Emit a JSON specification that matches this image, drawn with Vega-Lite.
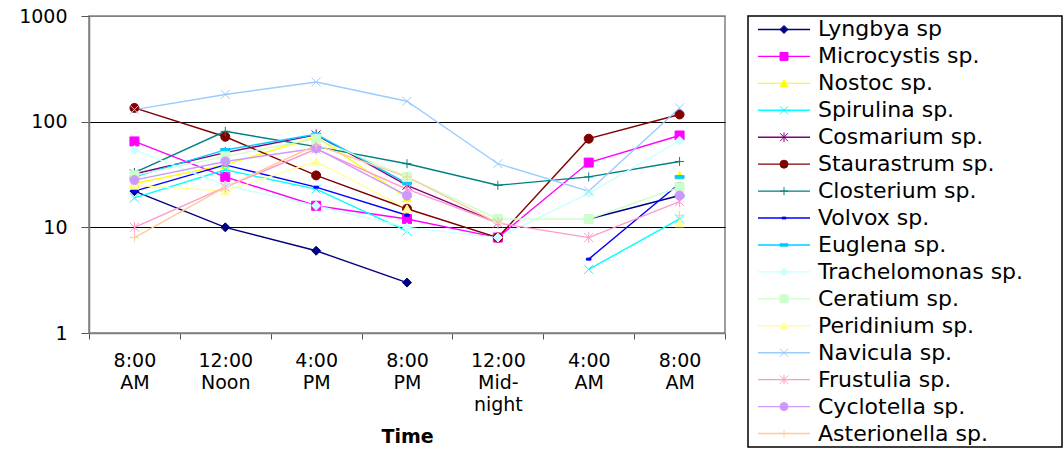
{
  "$schema": "https://vega.github.io/schema/vega-lite/v6.json",
  "padding": {"left": 17, "top": 6, "right": 2, "bottom": 0},
  "background": "white",
  "config": {"view": {"stroke": null}, "font": "DejaVu Sans", "concat": {"spacing": 20}},
  "data": {"values": [
    {"species":"Lyngbya sp","time":"1 8:00 AM","count":22},{"species":"Lyngbya sp","time":"2 12:00 Noon","count":10},{"species":"Lyngbya sp","time":"3 4:00 PM","count":6},{"species":"Lyngbya sp","time":"4 8:00 PM","count":3},{"species":"Lyngbya sp","time":"5 12:00 Mid-night","count":null},{"species":"Lyngbya sp","time":"6 4:00 AM","count":12},{"species":"Lyngbya sp","time":"7 8:00 AM","count":20},
    {"species":"Microcystis sp.","time":"1 8:00 AM","count":65},{"species":"Microcystis sp.","time":"2 12:00 Noon","count":30},{"species":"Microcystis sp.","time":"3 4:00 PM","count":16},{"species":"Microcystis sp.","time":"4 8:00 PM","count":12},{"species":"Microcystis sp.","time":"5 12:00 Mid-night","count":8},{"species":"Microcystis sp.","time":"6 4:00 AM","count":41},{"species":"Microcystis sp.","time":"7 8:00 AM","count":74},
    {"species":"Nostoc sp.","time":"1 8:00 AM","count":26},{"species":"Nostoc sp.","time":"2 12:00 Noon","count":39},{"species":"Nostoc sp.","time":"3 4:00 PM","count":72},{"species":"Nostoc sp.","time":"4 8:00 PM","count":19},{"species":"Nostoc sp.","time":"5 12:00 Mid-night","count":null},{"species":"Nostoc sp.","time":"6 4:00 AM","count":null},{"species":"Nostoc sp.","time":"7 8:00 AM","count":31},
    {"species":"Spirulina sp.","time":"1 8:00 AM","count":19},{"species":"Spirulina sp.","time":"2 12:00 Noon","count":35},{"species":"Spirulina sp.","time":"3 4:00 PM","count":23},{"species":"Spirulina sp.","time":"4 8:00 PM","count":9.2},{"species":"Spirulina sp.","time":"5 12:00 Mid-night","count":null},{"species":"Spirulina sp.","time":"6 4:00 AM","count":4},{"species":"Spirulina sp.","time":"7 8:00 AM","count":12},
    {"species":"Cosmarium sp.","time":"1 8:00 AM","count":32},{"species":"Cosmarium sp.","time":"2 12:00 Noon","count":51},{"species":"Cosmarium sp.","time":"3 4:00 PM","count":75},{"species":"Cosmarium sp.","time":"4 8:00 PM","count":25},{"species":"Cosmarium sp.","time":"5 12:00 Mid-night","count":11},{"species":"Cosmarium sp.","time":"6 4:00 AM","count":null},{"species":"Cosmarium sp.","time":"7 8:00 AM","count":21},
    {"species":"Staurastrum sp.","time":"1 8:00 AM","count":135},{"species":"Staurastrum sp.","time":"2 12:00 Noon","count":72},{"species":"Staurastrum sp.","time":"3 4:00 PM","count":31},{"species":"Staurastrum sp.","time":"4 8:00 PM","count":15},{"species":"Staurastrum sp.","time":"5 12:00 Mid-night","count":8},{"species":"Staurastrum sp.","time":"6 4:00 AM","count":69},{"species":"Staurastrum sp.","time":"7 8:00 AM","count":117},
    {"species":"Closterium sp.","time":"1 8:00 AM","count":33},{"species":"Closterium sp.","time":"2 12:00 Noon","count":81},{"species":"Closterium sp.","time":"3 4:00 PM","count":58},{"species":"Closterium sp.","time":"4 8:00 PM","count":40},{"species":"Closterium sp.","time":"5 12:00 Mid-night","count":25},{"species":"Closterium sp.","time":"6 4:00 AM","count":30},{"species":"Closterium sp.","time":"7 8:00 AM","count":42},
    {"species":"Volvox sp.","time":"1 8:00 AM","count":22},{"species":"Volvox sp.","time":"2 12:00 Noon","count":39},{"species":"Volvox sp.","time":"3 4:00 PM","count":24},{"species":"Volvox sp.","time":"4 8:00 PM","count":13},{"species":"Volvox sp.","time":"5 12:00 Mid-night","count":null},{"species":"Volvox sp.","time":"6 4:00 AM","count":5},{"species":"Volvox sp.","time":"7 8:00 AM","count":26},
    {"species":"Euglena sp.","time":"1 8:00 AM","count":30},{"species":"Euglena sp.","time":"2 12:00 Noon","count":54},{"species":"Euglena sp.","time":"3 4:00 PM","count":76},{"species":"Euglena sp.","time":"4 8:00 PM","count":26},{"species":"Euglena sp.","time":"5 12:00 Mid-night","count":null},{"species":"Euglena sp.","time":"6 4:00 AM","count":null},{"species":"Euglena sp.","time":"7 8:00 AM","count":30},
    {"species":"Trachelomonas sp.","time":"1 8:00 AM","count":54},{"species":"Trachelomonas sp.","time":"2 12:00 Noon","count":25},{"species":"Trachelomonas sp.","time":"3 4:00 PM","count":16},{"species":"Trachelomonas sp.","time":"4 8:00 PM","count":10},{"species":"Trachelomonas sp.","time":"5 12:00 Mid-night","count":8},{"species":"Trachelomonas sp.","time":"6 4:00 AM","count":21},{"species":"Trachelomonas sp.","time":"7 8:00 AM","count":66},
    {"species":"Ceratium sp.","time":"1 8:00 AM","count":31},{"species":"Ceratium sp.","time":"2 12:00 Noon","count":47},{"species":"Ceratium sp.","time":"3 4:00 PM","count":69},{"species":"Ceratium sp.","time":"4 8:00 PM","count":30},{"species":"Ceratium sp.","time":"5 12:00 Mid-night","count":12},{"species":"Ceratium sp.","time":"6 4:00 AM","count":12},{"species":"Ceratium sp.","time":"7 8:00 AM","count":24},
    {"species":"Peridinium sp.","time":"1 8:00 AM","count":25},{"species":"Peridinium sp.","time":"2 12:00 Noon","count":22},{"species":"Peridinium sp.","time":"3 4:00 PM","count":42},{"species":"Peridinium sp.","time":"4 8:00 PM","count":15},{"species":"Peridinium sp.","time":"5 12:00 Mid-night","count":null},{"species":"Peridinium sp.","time":"6 4:00 AM","count":null},{"species":"Peridinium sp.","time":"7 8:00 AM","count":11},
    {"species":"Navicula sp.","time":"1 8:00 AM","count":130},{"species":"Navicula sp.","time":"2 12:00 Noon","count":181},{"species":"Navicula sp.","time":"3 4:00 PM","count":237},{"species":"Navicula sp.","time":"4 8:00 PM","count":156},{"species":"Navicula sp.","time":"5 12:00 Mid-night","count":40},{"species":"Navicula sp.","time":"6 4:00 AM","count":22},{"species":"Navicula sp.","time":"7 8:00 AM","count":135},
    {"species":"Frustulia sp.","time":"1 8:00 AM","count":10},{"species":"Frustulia sp.","time":"2 12:00 Noon","count":24},{"species":"Frustulia sp.","time":"3 4:00 PM","count":55},{"species":"Frustulia sp.","time":"4 8:00 PM","count":23},{"species":"Frustulia sp.","time":"5 12:00 Mid-night","count":11},{"species":"Frustulia sp.","time":"6 4:00 AM","count":8},{"species":"Frustulia sp.","time":"7 8:00 AM","count":17.5},
    {"species":"Cyclotella sp.","time":"1 8:00 AM","count":28},{"species":"Cyclotella sp.","time":"2 12:00 Noon","count":42},{"species":"Cyclotella sp.","time":"3 4:00 PM","count":56},{"species":"Cyclotella sp.","time":"4 8:00 PM","count":20},{"species":"Cyclotella sp.","time":"5 12:00 Mid-night","count":null},{"species":"Cyclotella sp.","time":"6 4:00 AM","count":null},{"species":"Cyclotella sp.","time":"7 8:00 AM","count":20},
    {"species":"Asterionella sp.","time":"1 8:00 AM","count":8},{"species":"Asterionella sp.","time":"2 12:00 Noon","count":24},{"species":"Asterionella sp.","time":"3 4:00 PM","count":60},{"species":"Asterionella sp.","time":"4 8:00 PM","count":30},{"species":"Asterionella sp.","time":"5 12:00 Mid-night","count":11},{"species":"Asterionella sp.","time":"6 4:00 AM","count":null},{"species":"Asterionella sp.","time":"7 8:00 AM","count":13}
  ]},
  "hconcat": [
    {
      "width": 636,
      "height": 317,
      "view": {"stroke": "#808080", "strokeWidth": 1.5},
      "encoding": {
        "x": {
          "field": "time", "type": "ordinal",
          "scale": {"domain": ["1 8:00 AM","2 12:00 Noon","3 4:00 PM","4 8:00 PM","5 12:00 Mid-night","6 4:00 AM","7 8:00 AM"], "paddingInner": 0, "paddingOuter": 0},
          "axis": {
            "title": "Time", "titleFontSize": 19, "titleFontWeight": "bold", "titleColor": "black", "titlePadding": 13,
            "labelExpr": "split(replace(slice(datum.label, 2), 'Mid-night', 'Mid- night'), ' ')",
            "labelAngle": 0, "labelFontSize": 19, "labelColor": "black", "labelLineHeight": 22, "labelPadding": 12,
            "tickBand": "extent", "tickSize": 6, "tickColor": "#555", "domainColor": "#808080", "domainWidth": 1.5, "grid": false
          }
        },
        "y": {
          "field": "count", "type": "quantitative",
          "scale": {"type": "log", "domain": [1, 1000], "nice": false},
          "axis": {
            "title": null, "values": [1, 10, 100, 1000], "format": "d",
            "labelFontSize": 19, "labelColor": "black", "labelPadding": 14, "tickSize": 8, "tickColor": "#555",
            "domainColor": "#808080", "domainWidth": 1.5,
            "grid": true,
            "gridColor": {"condition": {"test": "datum.value === 1000 || datum.value === 1", "value": "#808080"}, "value": "#000000"},
            "gridWidth": 1.2
          }
        }
      },
      "layer": [
        {
          "mark": {"type": "line", "strokeWidth": 1.4, "invalid": "break-paths-show-domains"},
          "encoding": {
            "color": {
              "field": "species", "type": "nominal", "legend": null,
              "scale": {
                "domain": ["Lyngbya sp","Microcystis sp.","Nostoc sp.","Spirulina sp.","Cosmarium sp.","Staurastrum sp.","Closterium sp.","Volvox sp.","Euglena sp.","Trachelomonas sp.","Ceratium sp.","Peridinium sp.","Navicula sp.","Frustulia sp.","Cyclotella sp.","Asterionella sp."],
                "range": ["#000080","#FF00FF","#FFFF00","#00FFFF","#800080","#800000","#008080","#0000FF","#00CCFF","#CCFFFF","#CCFFCC","#FFFF99","#99CCFF","#FF99CC","#CC99FF","#FFCC99"]
              }
            }
          }
        },
        {
          "mark": {"type": "point", "filled": true, "size": 81, "strokeWidth": 1, "opacity": 1, "invalid": "filter"},
          "encoding": {
            "color": {"field": "species", "type": "nominal", "legend": null},
            "stroke": {
              "field": "species", "type": "nominal", "legend": null,
              "scale": {
                "domain": ["Lyngbya sp","Microcystis sp.","Nostoc sp.","Spirulina sp.","Cosmarium sp.","Staurastrum sp.","Closterium sp.","Volvox sp.","Euglena sp.","Trachelomonas sp.","Ceratium sp.","Peridinium sp.","Navicula sp.","Frustulia sp.","Cyclotella sp.","Asterionella sp."],
                "range": ["#000080","#FF00FF","#FFFF00","#00FFFF","#800080","#800000","#008080","#0000FF","#00CCFF","#CCFFFF","#CCFFCC","#FFFF99","#99CCFF","#FF99CC","#CC99FF","#FFCC99"]
              }
            },
            "shape": {
              "field": "species", "type": "nominal", "legend": null,
              "scale": {
                "domain": ["Lyngbya sp","Microcystis sp.","Nostoc sp.","Spirulina sp.","Cosmarium sp.","Staurastrum sp.","Closterium sp.","Volvox sp.","Euglena sp.","Trachelomonas sp.","Ceratium sp.","Peridinium sp.","Navicula sp.","Frustulia sp.","Cyclotella sp.","Asterionella sp."],
                "range": ["diamond","square","triangle-up","M-1,-1L1,1M-1,1L1,-1","M-1,-1L1,1M-1,1L1,-1M0,-1.2L0,1.2","circle","M-1,0L1,0M0,-1L0,1","M-0.5,-0.22H0.5V0.22H-0.5Z","M-1,-0.3H1V0.3H-1Z","diamond","square","triangle-up","M-1,-1L1,1M-1,1L1,-1","M-1,-1L1,1M-1,1L1,-1M0,-1.2L0,1.2","circle","M-1,0L1,0M0,-1L0,1"]
              }
            }
          }
        }
      ]
    },
    {
      "width": 314,
      "height": 431,
      "view": {"stroke": "black", "strokeWidth": 1.5},
      "transform": [{"filter": "datum.time === '1 8:00 AM'"}],
      "encoding": {
        "y": {
          "field": "species", "type": "nominal", "axis": null,
          "scale": {"type": "point", "padding": 0.5, "domain": ["Lyngbya sp","Microcystis sp.","Nostoc sp.","Spirulina sp.","Cosmarium sp.","Staurastrum sp.","Closterium sp.","Volvox sp.","Euglena sp.","Trachelomonas sp.","Ceratium sp.","Peridinium sp.","Navicula sp.","Frustulia sp.","Cyclotella sp.","Asterionella sp."]}
        }
      },
      "layer": [
        {
          "mark": {"type": "rule", "strokeWidth": 1.4},
          "encoding": {
            "x": {"datum": 10, "type": "quantitative", "scale": {"domain": [0, 314], "nice": false, "zero": false}, "axis": null},
            "x2": {"datum": 62},
            "color": {"field": "species", "type": "nominal", "legend": null}
          }
        },
        {
          "mark": {"type": "point", "filled": true, "size": 64, "strokeWidth": 1, "opacity": 1},
          "encoding": {
            "x": {"datum": 36, "type": "quantitative"},
            "color": {"field": "species", "type": "nominal", "legend": null},
            "stroke": {"field": "species", "type": "nominal", "legend": null},
            "shape": {"field": "species", "type": "nominal", "legend": null}
          }
        },
        {
          "mark": {"type": "text", "align": "left", "baseline": "middle", "fontSize": 22, "font": "DejaVu Sans", "color": "black"},
          "encoding": {
            "x": {"datum": 70, "type": "quantitative"},
            "text": {"field": "species"}
          }
        }
      ]
    }
  ]
}
